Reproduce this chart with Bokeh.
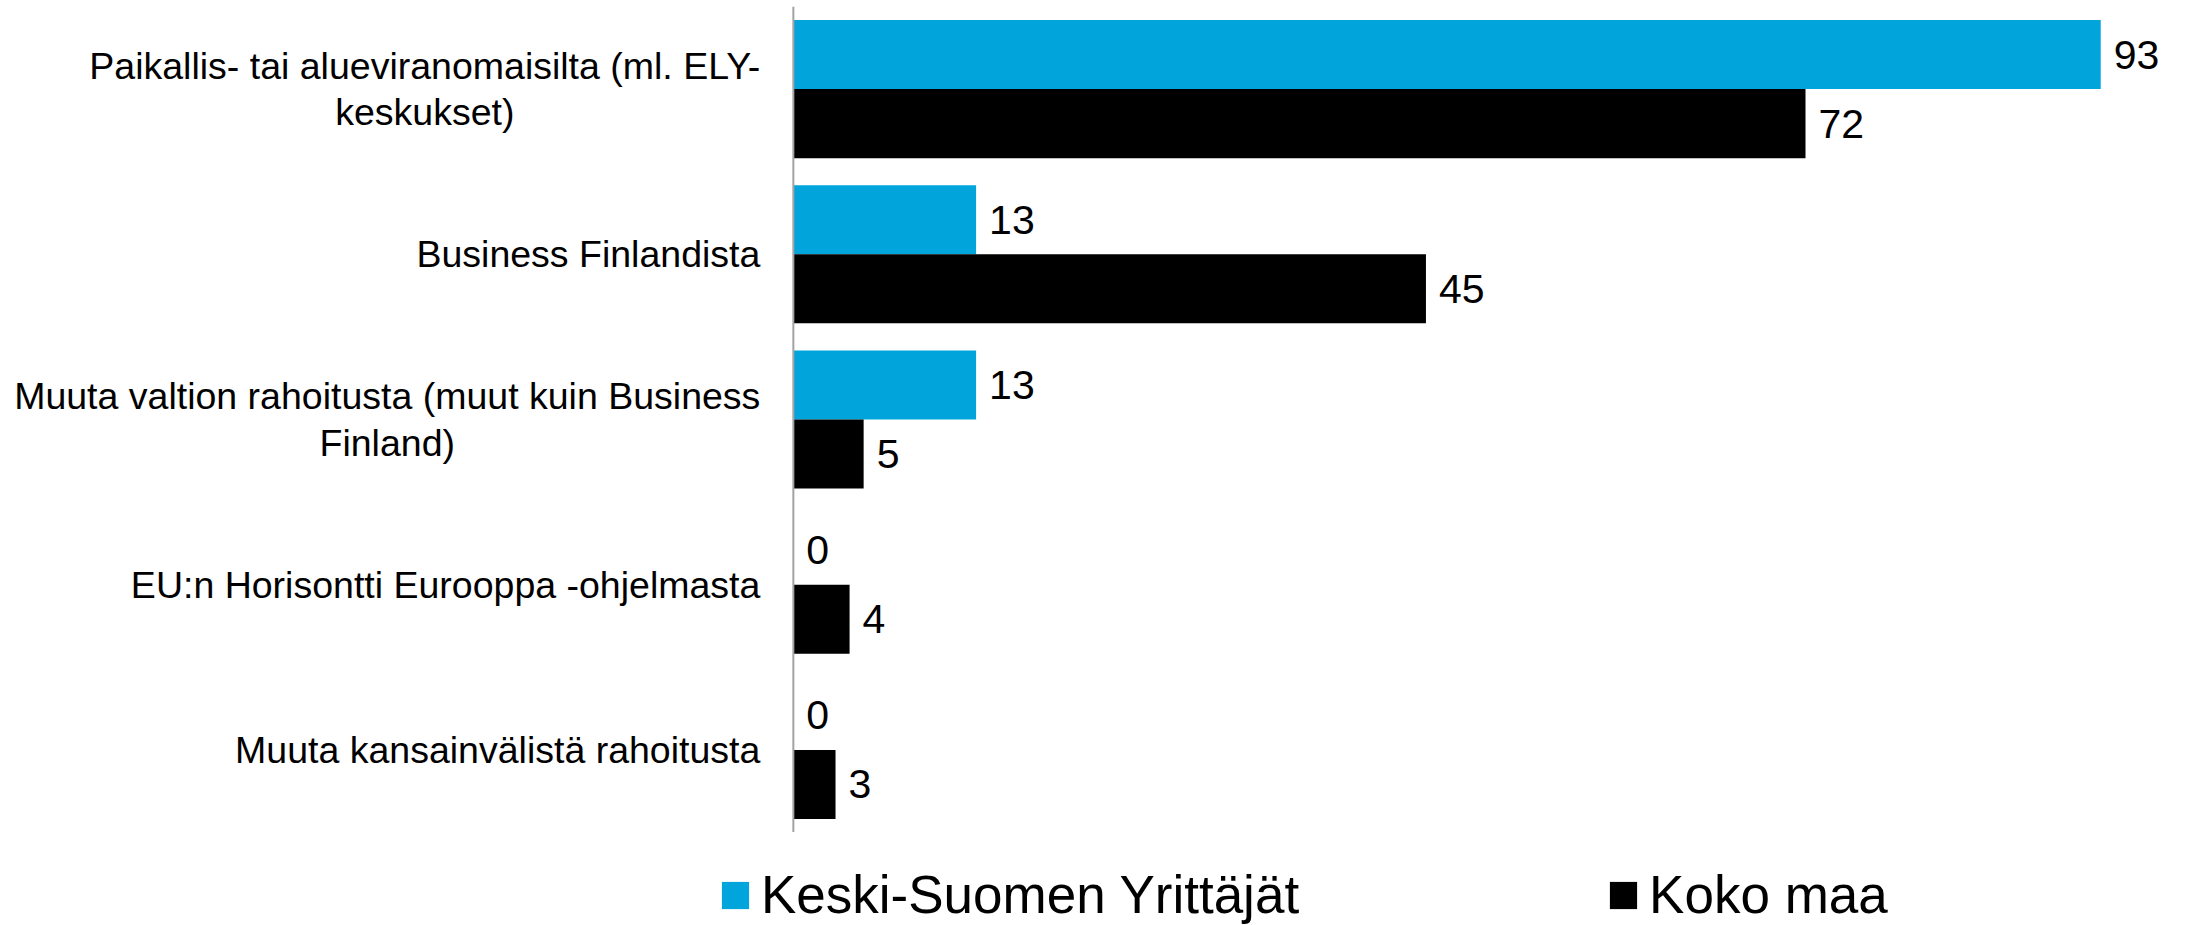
from bokeh.plotting import figure
from bokeh.layouts import column
from bokeh.models import ColumnDataSource, FactorRange, Range1d, Span, Legend, LegendItem
from bokeh.transform import dodge
from bokeh.core.properties import value
from bokeh.embed import file_html
from bokeh.resources import INLINE

# ---- data ----
categories = [
    "Paikallis- tai alueviranomaisilta (ml. ELY-\nkeskukset)",
    "Business Finlandista",
    "Muuta valtion rahoitusta (muut kuin Business\nFinland)",
    "EU:n Horisontti Eurooppa -ohjelmasta",
    "Muuta kansainvälistä rahoitusta",
]
series_names = ["Keski-Suomen Yrittäjät", "Koko maa"]
keski_suomi = [93, 13, 13, 0, 0]
koko_maa = [72, 45, 5, 4, 3]
colors = ["#02A5DB", "#000000"]

FONT = "Liberation Sans"

src = ColumnDataSource(dict(
    cat=categories,
    ks=keski_suomi,
    km=koko_maa,
    ks_txt=[str(v) for v in keski_suomi],
    km_txt=[str(v) for v in koko_maa],
))

W = 2193
p = figure(
    width=W, height=832,
    y_range=FactorRange(factors=list(reversed(categories))),
    x_range=Range1d(-56.4, 99.6),
    output_backend="svg", toolbar_location=None,
    min_border_left=0, min_border_right=0, min_border_top=6, min_border_bottom=0,
)
p.outline_line_color = None
p.xgrid.visible = False
p.ygrid.visible = False
p.xaxis.visible = False
p.yaxis.visible = False

bh = 0.418
off = 0.209
r1 = p.hbar(y=dodge("cat", off, range=p.y_range), right="ks", left=0, height=bh,
            source=src, fill_color=colors[0], line_color=None)
r2 = p.hbar(y=dodge("cat", -off, range=p.y_range), right="km", left=0, height=bh,
            source=src, fill_color=colors[1], line_color=None)

# value labels
for col, txt, o in (("ks", "ks_txt", off), ("km", "km_txt", -off)):
    p.text(x=col, y=dodge("cat", o, range=p.y_range), text=txt, source=src,
           x_offset=13, text_baseline="middle", text_align="left",
           text_font=value(FONT), text_font_size="41px", text_color="#000000")

# category labels (right-anchored block, centred lines)
p.text(x=0, y="cat", text="cat", source=src, x_offset=-33,
       anchor="center_right", text_align="center", text_baseline="middle",
       text_line_height=1.1,
       text_font=value(FONT), text_font_size="37.5px", text_color="#000000")

# vertical axis line at zero
p.add_layout(Span(location=0, dimension="height", line_color="#A3A3A3", line_width=2))

# ---- legend strip (zero-width proxy bars carry the legend swatches) ----
lg = figure(width=W, height=93, x_range=Range1d(0, 100),
            y_range=FactorRange(factors=list(reversed(categories))),
            output_backend="svg", toolbar_location=None,
            min_border_left=0, min_border_right=0, min_border_top=0, min_border_bottom=0)
lg.outline_line_color = None
lg.xgrid.visible = False
lg.ygrid.visible = False
lg.xaxis.visible = False
lg.yaxis.visible = False
k1 = lg.hbar(y="cat", left="ks", right="ks", height=0, source=src,
             fill_color=colors[0], line_color=None)
k2 = lg.hbar(y="cat", left="km", right="km", height=0, source=src,
             fill_color=colors[1], line_color=None)

legend = Legend(
    items=[LegendItem(label=series_names[0], renderers=[k1]),
           LegendItem(label=series_names[1], renderers=[k2])],
    orientation="horizontal",
    location=(718, 0),
    label_text_font=FONT, label_text_font_size="53px", label_text_color="#000000",
    glyph_width=34, glyph_height=34, label_standoff=9, spacing=307,
    padding=0, margin=0,
    border_line_color=None, background_fill_alpha=0,
)
lg.add_layout(legend, "center")

layout = column(p, lg, spacing=0)
open("out.html", "w").write(file_html(layout, INLINE))
